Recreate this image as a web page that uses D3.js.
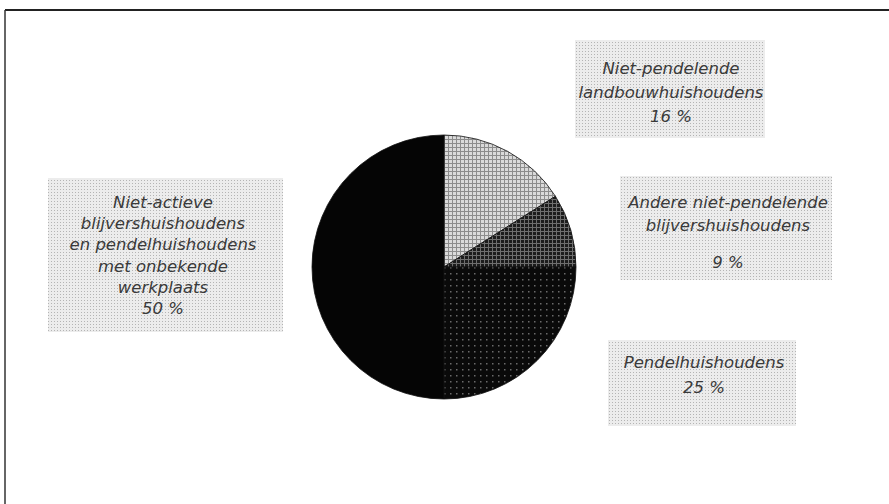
<!DOCTYPE html>
<html>
<head>
<meta charset="utf-8">
<script src="https://cdn.jsdelivr.net/npm/d3@7"></script>
<style>
    body { margin: 0; background: #fff; }
    svg { display: block; }
    .lbl { font-family: "DejaVu Sans", sans-serif; font-style: oblique; font-weight: 200; font-size: 16.5px; fill: #3a3a3a; }
</style>
</head>
<body>
<svg id="pie-chart" width="889" height="504"></svg>
<script>
// slices, clockwise from 12 o'clock
const categories = [
    "Niet-pendelende landbouwhuishoudens",
    "Andere niet-pendelende blijvershuishoudens",
    "Pendelhuishoudens",
    "Niet-actieve blijvershuishoudens en pendelhuishoudens met onbekende werkplaats"
];
const values = [16, 9, 25, 50];
const labelLines = [
    ["Niet-pendelende", "landbouwhuishoudens"],
    ["Andere niet-pendelende", "blijvershuishoudens"],
    ["Pendelhuishoudens"],
    ["Niet-actieve", "blijvershuishoudens", "en pendelhuishoudens", "met onbekende", "werkplaats"]
];

const width = 889;
const height = 504;
const cx = 444, cy = 267, radius = 132;

// label boxes: x, y, w, h, text centre x, first baseline, line gap, gap before percentage
const boxes = [
    { x: 575, y: 40, w: 190, h: 98, tx: 671, ty: 74, lh: 24, pg: 0 },
    { x: 620, y: 176, w: 212, h: 104, tx: 728, ty: 208, lh: 23, pg: 14 },
    { x: 608, y: 340, w: 188, h: 86, tx: 704, ty: 368, lh: 25, pg: 0 },
    { x: 48, y: 178, w: 235, h: 154, tx: 163, ty: 208, lh: 21.2, pg: 0 }
];

const svg = d3.select("#pie-chart");
const defs = svg.append("defs");

// screen patterns from the print
function screen(id, bg, fg, size, dot) {
    const p = defs.append("pattern")
        .attr("id", id)
        .attr("patternUnits", "userSpaceOnUse")
        .attr("width", size).attr("height", size);
    p.append("rect").attr("width", size).attr("height", size).attr("fill", bg);
    p.append("rect").attr("width", dot).attr("height", dot).attr("fill", fg);
    return "url(#" + id + ")";
}
function gridScreen(id, bg, fg, size) {
    const p = defs.append("pattern")
        .attr("id", id)
        .attr("patternUnits", "userSpaceOnUse")
        .attr("width", size).attr("height", size);
    p.append("rect").attr("width", size).attr("height", size).attr("fill", bg);
    p.append("rect").attr("width", size).attr("height", 1).attr("fill", fg);
    p.append("rect").attr("width", 1).attr("height", size).attr("fill", fg);
    return "url(#" + id + ")";
}
const boxFill = screen("boxScreen", "#ececec", "#b4b4b4", 3, 1);
const sliceFills = [
    gridScreen("light", "#dadada", "#8c8c8c", 4),
    gridScreen("grid", "#1c1c1c", "#6e6e6e", 4),
    screen("sparse", "#0a0a0a", "#6a6a6a", 6, 1.5),
    "#050505"
];

// frame
svg.append("line")
    .attr("x1", 5).attr("x2", width).attr("y1", 10).attr("y2", 10)
    .attr("stroke", "#222").attr("stroke-width", 2);
svg.append("line")
    .attr("x1", 5).attr("x2", 5).attr("y1", 10).attr("y2", height)
    .attr("stroke", "#333").attr("stroke-width", 1.5);

// pie
const pie = d3.pie().sort(null).value(d => d);
const arc = d3.arc().innerRadius(0).outerRadius(radius);

svg.append("g")
    .attr("transform", `translate(${cx}, ${cy})`)
    .selectAll("path")
    .data(pie(values))
    .join("path")
    .attr("d", arc)
    .attr("fill", (d, i) => sliceFills[i])
    .attr("stroke", "#111")
    .attr("stroke-width", 0.8);

// labels
const lbl = svg.append("g")
    .selectAll("g")
    .data(categories)
    .join("g");

lbl.append("rect")
    .attr("x", (d, i) => boxes[i].x)
    .attr("y", (d, i) => boxes[i].y)
    .attr("width", (d, i) => boxes[i].w)
    .attr("height", (d, i) => boxes[i].h)
    .attr("fill", boxFill);

lbl.each(function (d, i) {
    const b = boxes[i];
    const lines = labelLines[i].concat([values[i] + " %"]);
    d3.select(this).selectAll("text")
        .data(lines)
        .join("text")
        .attr("class", "lbl")
        .attr("text-anchor", "middle")
        .attr("x", b.tx)
        .attr("y", (t, j) => b.ty + j * b.lh + (j === lines.length - 1 ? b.pg : 0))
        .text(t => t);
});
</script>
</body>
</html>
